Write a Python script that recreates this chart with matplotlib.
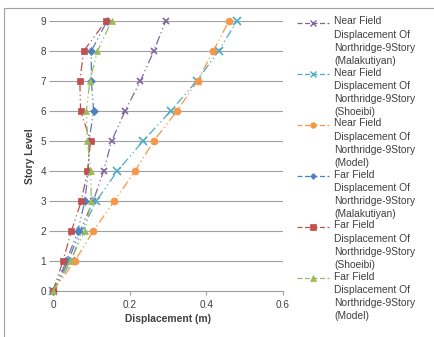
import matplotlib
matplotlib.use("Agg")
import matplotlib.pyplot as plt
from matplotlib.lines import Line2D
from matplotlib.patches import Rectangle

plt.rcParams['font.family'] = ['Liberation Sans', 'DejaVu Sans']

levels = [0, 1, 2, 3, 4, 5, 6, 7, 8, 9]

near_malakutiyan = [0, 0.040, 0.070, 0.105, 0.132, 0.153, 0.188, 0.228, 0.263, 0.294]
near_shoeibi = [0, 0.048, 0.074, 0.113, 0.168, 0.235, 0.307, 0.375, 0.432, 0.480]
near_model = [0, 0.057, 0.105, 0.160, 0.214, 0.263, 0.323, 0.377, 0.418, 0.459]
far_malakutiyan = [0, 0.035, 0.065, 0.083, 0.092, 0.094, 0.106, 0.100, 0.100, 0.141]
far_shoeibi = [0, 0.026, 0.048, 0.074, 0.090, 0.098, 0.072, 0.070, 0.080, 0.138]
far_model = [0, 0.045, 0.083, 0.100, 0.098, 0.090, 0.087, 0.096, 0.116, 0.153]

labels = [
    "Near Field\nDisplacement Of\nNorthridge-9Story\n(Malakutiyan)",
    "Near Field\nDisplacement Of\nNorthridge-9Story\n(Shoeibi)",
    "Near Field\nDisplacement Of\nNorthridge-9Story\n(Model)",
    "Far Field\nDisplacement Of\nNorthridge-9Story\n(Malakutiyan)",
    "Far Field\nDisplacement Of\nNorthridge-9Story\n(Shoeibi)",
    "Far Field\nDisplacement Of\nNorthridge-9Story\n(Model)",
]
series = [near_malakutiyan, near_shoeibi, near_model,
          far_malakutiyan, far_shoeibi, far_model]
colors = ["#8064A2", "#4BACC6", "#F79646", "#4F81BD", "#C0504D", "#9BBB59"]
markers = ["x", "x", "o", "D", "s", "^"]
msizes = [5, 6, 5, 4, 5, 5]
dash = (7, 2.5, 1, 2.5, 1, 2.5)

W, H = 435, 337
fig = plt.figure(figsize=(W / 100, H / 100), dpi=100)
# chart border: only the left and top edges fall inside the picture
fig.patches.append(Rectangle((4 / W, -10 / H), 450 / W, (H - 8 + 10) / H,
                             transform=fig.transFigure, fill=False,
                             edgecolor="#a0a0a0", linewidth=0.8))

ax = fig.add_axes([53 / W, 1 - 291 / H, 230 / W, 270 / H])
for xs, c, m, ms in zip(series, colors, markers, msizes):
    ax.plot(xs, levels, color=c, marker=m, markersize=ms, linewidth=0.9,
            dashes=dash, markeredgewidth=1.2 if m == "x" else 0.5,
            zorder=3, clip_on=False)

ax.set_xlim(0, 0.6)
ax.set_ylim(0, 9)
ax.set_xticks([0, 0.2, 0.4, 0.6])
ax.set_xticklabels(["0", "0.2", "0.4", "0.6"])
ax.set_yticks(levels)
ax.yaxis.grid(True, color="#a0a0a0", linewidth=0.8)
ax.set_axisbelow(True)
for s in ["top", "right", "left"]:
    ax.spines[s].set_visible(False)
ax.spines["bottom"].set_color("#a0a0a0")
ax.tick_params(axis="both", labelsize=7.2, colors="#404040", length=3, width=0.8)
ax.tick_params(axis="y", color="#a0a0a0", pad=2)
ax.tick_params(axis="x", color="#a0a0a0")
ax.set_xlabel("Displacement (m)", fontsize=7.4, fontweight="bold", color="#404040", labelpad=3)
ax.set_ylabel("Story Level", fontsize=7.4, fontweight="bold", color="#404040", labelpad=4)

# legend drawn by hand so the symbol sits on the first text line
top = 23
step = 51
for i, (lab, c, m, ms) in enumerate(zip(labels, colors, markers, msizes)):
    yc = 1 - (top + i * step) / H
    fig.add_artist(Line2D([297 / W, 329 / W], [yc, yc], transform=fig.transFigure,
                          color=c, linewidth=0.9, dashes=(4, 2)))
    fig.add_artist(Line2D([313 / W], [yc], transform=fig.transFigure, color=c,
                          marker=m, markersize=ms - 1,
                          markeredgewidth=1.0 if m == "x" else 0.5))
    fig.text(334 / W, yc + 6.5 / H, lab, fontsize=7.4, color="#404040", va="top",
             linespacing=1.4, transform=fig.transFigure)

fig.savefig("out.png", dpi=100)
